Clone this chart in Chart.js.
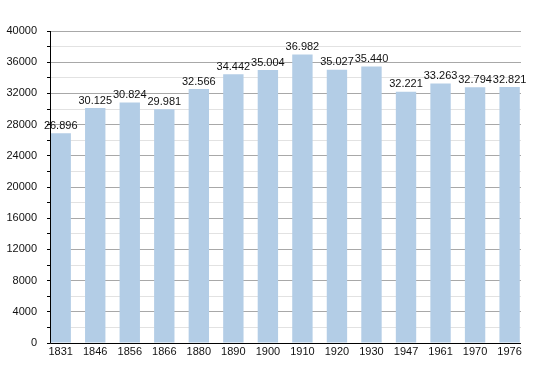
<!DOCTYPE html>
<html>
<head>
<meta charset="utf-8">
<script src="https://cdn.jsdelivr.net/npm/chart.js@4"></script>
<style>
  html, body { margin: 0; padding: 0; background: #fff; }
  #wrap { width: 550px; height: 373px; }
</style>
</head>
<body>
<div id="wrap"><canvas id="graphique" width="550" height="373"></canvas></div>
<script>
// années du recensement et population
const years = ["1831", "1846", "1856", "1866", "1880", "1890", "1900", "1910", "1920", "1930", "1947", "1961", "1970", "1976"];
const population = [26896, 30125, 30824, 29981, 32566, 34442, 35004, 36982, 35027, 35440, 32221, 33263, 32794, 32821];
const yTicks = [0, 4000, 8000, 12000, 16000, 20000, 24000, 28000, 32000, 36000, 40000];

const fmt = (v) => {
    const s = String(v);
    return s.length > 3 ? s.slice(0, -3) + "." + s.slice(-3) : s;
};

// étiquettes au-dessus des barres + axes noirs
const valueLabels = {
    id: "valueLabels",
    afterDatasetsDraw(chart) {
        const ctx = chart.ctx;
        const a = chart.chartArea;
        const meta = chart.getDatasetMeta(0);
        ctx.save();
        ctx.strokeStyle = "#000";
        ctx.lineWidth = 1;
        ctx.beginPath();
        ctx.moveTo(Math.round(a.left) + 0.5, a.top);
        ctx.lineTo(Math.round(a.left) + 0.5, Math.round(a.bottom) + 0.5);
        ctx.lineTo(a.right, Math.round(a.bottom) + 0.5);
        ctx.stroke();
        ctx.font = "11px 'Liberation Sans', Arial, sans-serif";
        ctx.fillStyle = "#111";
        ctx.textAlign = "center";
        ctx.textBaseline = "bottom";
        meta.data.forEach((bar, i) => {
            ctx.fillText(fmt(population[i]), bar.x, bar.y - 2);
        });
        ctx.restore();
    }
};

new Chart(document.getElementById("graphique").getContext("2d"), {
    type: "bar",
    data: {
        datasets: [{
            data: population.map((v, i) => ({ x: i, y: v })),
            backgroundColor: "#b3cde6",
            borderWidth: 0,
            categoryPercentage: 1,
            barPercentage: 0.59
        }]
    },
    options: {
        responsive: false,
        animation: false,
        layout: { padding: { top: 31, right: 29, left: 0, bottom: 10 } },
        plugins: { legend: { display: false }, tooltip: { enabled: false } },
        scales: {
            x: {
                type: "linear",
                offset: false,
                min: -0.31,
                max: 13.33,
                afterBuildTicks: (axis) => { axis.ticks = years.map((y, i) => ({ value: i })); },
                afterFit: (s) => { s.height = 20; },
                ticks: {
                    callback: (v) => years[v],
                    color: "#111",
                    font: { size: 11, family: "'Liberation Sans', Arial, sans-serif" },
                    maxRotation: 0,
                    autoSkip: false,
                    padding: 2
                },
                grid: { display: false, drawTicks: false },
                border: { display: false }
            },
            y: {
                min: 0,
                max: 40000,
                afterFit: (s) => { s.width = 50; },
                ticks: {
                    stepSize: 2000,
                    autoSkip: false,
                    callback: (v) => (yTicks.includes(v) ? String(v) : ""),
                    color: "#111",
                    font: { size: 11, family: "'Liberation Sans', Arial, sans-serif" },
                    padding: 10
                },
                grid: {
                    color: (c) => (c.tick && c.tick.value % 4000 === 0 ? "#a8a8a8" : "#e2e2e2"),
                    tickColor: "#000",
                    tickLength: 3,
                    drawTicks: true
                },
                border: { display: false }
            }
        }
    },
    plugins: [valueLabels]
});
</script>
</body>
</html>
